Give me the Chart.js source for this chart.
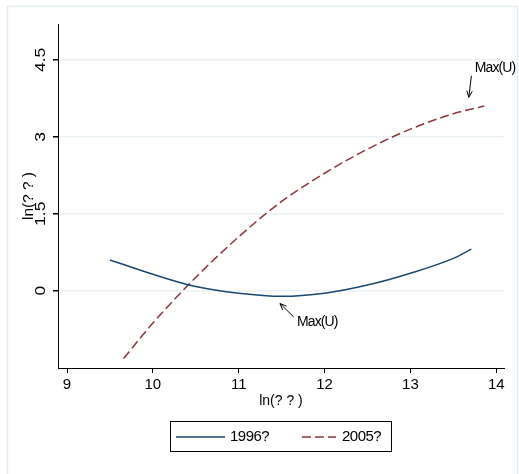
<!DOCTYPE html>
<html><head><meta charset="utf-8">
<script src="https://cdn.jsdelivr.net/npm/chart.js@4/dist/chart.umd.min.js"></script>
<style>html,body{margin:0;padding:0;background:#fff;}#wrap{width:519px;height:474px;position:relative;}</style>
</head><body><div id="wrap"><canvas id="c" width="519" height="474"></canvas></div>
<script>
const seriesNames = ['1996?', '2005?'];
const blueX = [9.5, 10, 10.5, 11, 11.5, 12, 12.5, 13, 13.5, 13.71];
const blueY = [0.6, 0.32, 0.08, -0.05, -0.11, -0.05, 0.11, 0.34, 0.63, 0.81];
const redX = [9.66, 10, 10.5, 11, 11.5, 12, 12.5, 13, 13.5, 13.86];
const redY = [-1.32, -0.63, 0.26, 1.05, 1.74, 2.29, 2.76, 3.15, 3.45, 3.60];
const xTicks = [9, 10, 11, 12, 13, 14];
const yTicks = [0, 1.5, 3, 4.5];
const yTickLabels = ['0', '1.5', '3', '4.5'];
const xTitle = 'ln(? ? )';
const yTitle = 'ln(? ? )';
const annoText = 'Max(U)';
// annotation anchors in data units: [textX, textY, arrowFromX, arrowFromY, arrowToX, arrowToY]
const annoTop = [13.75, 4.34, 13.71, 4.19, 13.68, 3.77];
const annoBottom = [11.68, -0.61, 11.64, -0.51, 11.48, -0.25];

const BLUE = '#1a476f', RED = '#90353b', GRID = '#eaf2f3', FONT = '"Liberation Sans", Arial, sans-serif';
const toPts = (xs, ys) => xs.map((x, i) => ({x: x, y: ys[i]}));

function arrow(ctx, x1, y1, x2, y2) {
  ctx.beginPath(); ctx.moveTo(x1, y1); ctx.lineTo(x2, y2); ctx.stroke();
  const a = Math.atan2(y2 - y1, x2 - x1), L = 7, w = 0.4;
  ctx.beginPath();
  ctx.moveTo(x2 - L * Math.cos(a - w), y2 - L * Math.sin(a - w));
  ctx.lineTo(x2, y2);
  ctx.lineTo(x2 - L * Math.cos(a + w), y2 - L * Math.sin(a + w));
  ctx.stroke();
}

const decor = {
  id: 'decor',
  beforeDraw(chart) {
    const ctx = chart.ctx;
    ctx.save();
    ctx.fillStyle = '#fff'; ctx.fillRect(0, 0, chart.width, chart.height);
    ctx.strokeStyle = '#e3ecef'; ctx.lineWidth = 1.5;
    ctx.strokeRect(7.5, 6.5, 510, 490);
    ctx.restore();
  },
  afterDraw(chart) {
    const ctx = chart.ctx, xs = chart.scales.x, ys = chart.scales.y;
    ctx.save();
    ctx.fillStyle = '#000';
    ctx.font = '14px ' + FONT;
    // y tick labels rotated (horizontally stretched like the reference)
    yTicks.forEach((v, i) => {
      ctx.save();
      ctx.translate(41, ys.getPixelForValue(v));
      ctx.rotate(-Math.PI / 2);
      ctx.scale(1.25, 1);
      ctx.textAlign = 'center'; ctx.textBaseline = 'middle';
      ctx.fillText(yTickLabels[i], 0, 0);
      ctx.restore();
    });
    // y title
    ctx.save();
    ctx.translate(29, (chart.chartArea.top + chart.chartArea.bottom) / 2);
    ctx.rotate(-Math.PI / 2);
    ctx.scale(1.1, 1);
    ctx.textAlign = 'center'; ctx.textBaseline = 'middle';
    ctx.fillText(yTitle, 0, 0);
    ctx.restore();
    // x title
    ctx.textAlign = 'center'; ctx.textBaseline = 'middle';
    ctx.fillText(xTitle, (chart.chartArea.left + chart.chartArea.right) / 2, 401);
    // annotations
    ctx.strokeStyle = '#000'; ctx.lineWidth = 1;
    ctx.font = '14px ' + FONT; ctx.letterSpacing = '-0.9px';
    [annoTop, annoBottom].forEach(a => {
      ctx.textAlign = 'left'; ctx.textBaseline = 'middle';
      ctx.fillText(annoText, xs.getPixelForValue(a[0]), ys.getPixelForValue(a[1]));
      arrow(ctx, xs.getPixelForValue(a[2]), ys.getPixelForValue(a[3]), xs.getPixelForValue(a[4]), ys.getPixelForValue(a[5]));
    });
    // legend box
    ctx.letterSpacing = '-0.5px';
    ctx.lineWidth = 1; ctx.strokeStyle = '#000';
    ctx.strokeRect(170.5, 421.5, 221, 30);
    ctx.lineWidth = 1.5;
    ctx.strokeStyle = BLUE; ctx.setLineDash([]);
    ctx.beginPath(); ctx.moveTo(176, 437); ctx.lineTo(225, 437); ctx.stroke();
    ctx.strokeStyle = RED; ctx.setLineDash([9, 4]);
    ctx.beginPath(); ctx.moveTo(302, 437); ctx.lineTo(336, 437); ctx.stroke();
    ctx.setLineDash([]);
    ctx.font = '15px ' + FONT;
    ctx.fillStyle = '#000'; ctx.textAlign = 'left'; ctx.textBaseline = 'middle';
    ctx.fillText(seriesNames[0], 230, 437);
    ctx.fillText(seriesNames[1], 342, 437);
    ctx.restore();
  }
};

new Chart(document.getElementById('c'), {
  type: 'scatter',
  data: {
    datasets: [
      {label: seriesNames[0], data: toPts(blueX, blueY), showLine: true, borderColor: BLUE, borderWidth: 1.5, pointRadius: 0, cubicInterpolationMode: 'monotone'},
      {label: seriesNames[1], data: toPts(redX, redY), showLine: true, borderColor: RED, borderWidth: 1.5, borderDash: [9, 4], pointRadius: 0, cubicInterpolationMode: 'monotone'}
    ]
  },
  plugins: [decor],
  options: {
    responsive: false, animation: false,
    layout: {padding: {top: 24, right: 15, left: 0, bottom: 0}},
    plugins: {legend: {display: false}, tooltip: {enabled: false}},
    scales: {
      x: {
        type: 'linear', min: 8.895, max: 14.09,
        afterBuildTicks: s => { s.ticks = xTicks.map(v => ({value: v})); },
        afterFit: s => { s.height = 106; },
        grid: {drawOnChartArea: false, drawTicks: true, tickLength: 5, color: '#000', tickColor: '#000'},
        border: {display: true, color: '#000', width: 1},
        ticks: {color: '#000', font: {family: FONT, size: 15}, padding: 3, maxRotation: 0, callback: v => String(v)}
      },
      y: {
        type: 'linear', min: -1.507, max: 5.2,
        afterBuildTicks: s => { s.ticks = yTicks.map(v => ({value: v})); },
        afterFit: s => { s.width = 58; },
        grid: {drawOnChartArea: true, drawTicks: true, tickLength: 5, color: GRID, tickColor: '#000', lineWidth: 1.5},
        border: {display: true, color: '#000', width: 1},
        ticks: {display: false}
      }
    }
  }
});
</script></body></html>
